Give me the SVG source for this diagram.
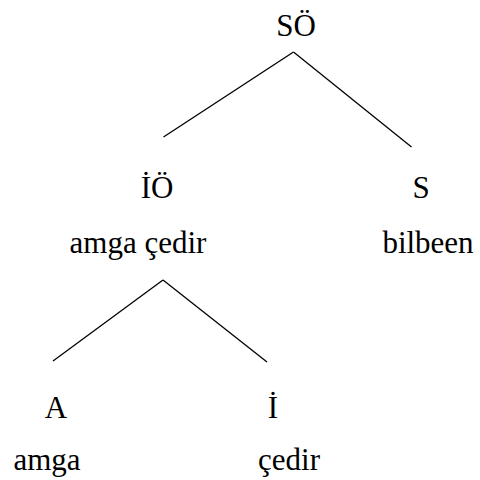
<svg xmlns="http://www.w3.org/2000/svg" width="480" height="480" viewBox="0 0 480 480">
<style>
.t{font-family:'Times New Roman', 'Liberation Serif', Times, serif;font-size:31px;fill:#000;text-anchor:middle}
line{stroke:#000;stroke-width:1.3}
</style>
<rect width="480" height="480" fill="#fff"/>
<g id="connectors">
<line x1="293.5" y1="52" x2="163.5" y2="137"/>
<line x1="293.5" y1="52" x2="411.5" y2="147"/>
<line x1="163" y1="280" x2="53" y2="361"/>
<line x1="163" y1="280" x2="267" y2="362"/>
</g>
<g id="SO"><text class="t" x="296" y="36">SÖ</text></g>
<g id="IO"><text class="t" x="157" y="198">İÖ</text><text class="t" x="138" y="253">amga çedir</text></g>
<g id="S"><text class="t" x="421" y="198">S</text><text class="t" x="428" y="253">bilbeen</text></g>
<g id="A"><text class="t" x="56" y="418">A</text><text class="t" x="47" y="470">amga</text></g>
<g id="I"><text class="t" x="273" y="418">İ</text><text class="t" x="289" y="470">çedir</text></g>
</svg>
